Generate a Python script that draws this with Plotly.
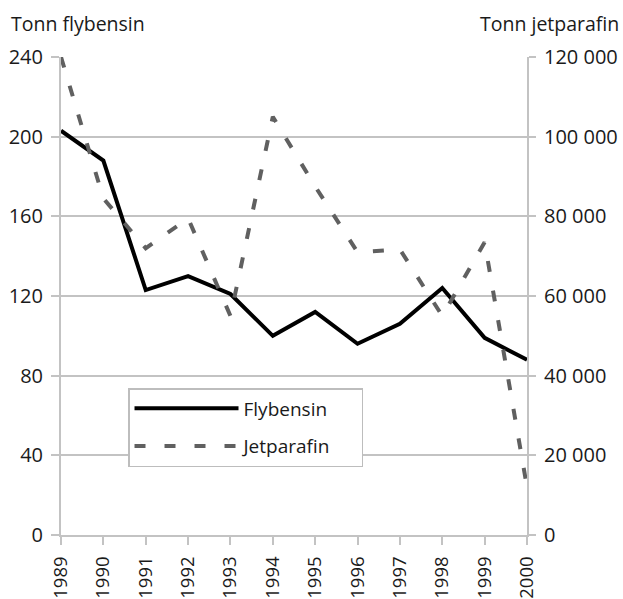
import plotly.graph_objects as go

years = [1989, 1990, 1991, 1992, 1993, 1994, 1995, 1996, 1997, 1998, 1999, 2000]
flybensin = [203, 188, 123, 130, 121, 100, 112, 96, 106, 124, 99, 88]
jetparafin = [120000, 84500, 72000, 79500, 55000, 105000, 87500, 71000, 71700, 55000, 73500, 12000]

left_ticks = [0, 40, 80, 120, 160, 200, 240]
right_ticks = [0, 20000, 40000, 60000, 80000, 100000, 120000]
right_labels = ["0", "20 000", "40 000", "60 000", "80 000", "100 000", "120 000"]

FONT = "Open Sans, Noto Sans, sans-serif"
GRID = "#c3c3c3"
TXT = "#1a1a1a"
PAD = "\u00a0" * 5  # right padding inside the legend box

fig = go.Figure()
fig.add_trace(go.Scatter(x=years, y=flybensin, name="Flybensin", mode="lines", legendgroup="a",
                         line=dict(color="#000000", width=4)))
fig.add_trace(go.Scatter(x=years, y=jetparafin, name="Jetparafin" + PAD, mode="lines", yaxis="y2",
                         legendgroup="b",
                         line=dict(color="#606060", width=4, dash="11px,19px")))

axis_common = dict(showline=True, linecolor=GRID, linewidth=2, tickcolor=GRID, tickwidth=2,
                   zeroline=False, automargin=False)

fig.update_layout(
    width=623, height=599,
    margin=dict(l=61, r=96, t=57, b=64, autoexpand=False),
    paper_bgcolor="white", plot_bgcolor="white",
    font=dict(family=FONT, size=20, color=TXT),
    showlegend=True,
    legend=dict(x=0.1438, y=0.3075, xanchor="left", yanchor="top",
                bgcolor="white", bordercolor="#bdbdbd", borderwidth=1.5,
                font=dict(size=19, family=FONT, color=TXT),
                itemwidth=104, tracegroupgap=10),
    xaxis=dict(range=[1989, 2000], tickvals=years, ticktext=[str(y) for y in years],
               tickangle=-90, showgrid=False, ticks="outside", ticklen=8,
               ticklabelstandoff=4, tickfont=dict(size=18.5, family=FONT, color=TXT),
               **axis_common),
    xaxis2=dict(range=[1989, 2000], tickvals=years, overlaying="x", anchor="y", side="bottom",
                ticks="inside", ticklen=7, tickcolor=GRID, tickwidth=2, showticklabels=False,
                showgrid=False, showline=False, zeroline=False, automargin=False),
    yaxis=dict(range=[0, 240], tickvals=left_ticks, showgrid=True, gridcolor=GRID, gridwidth=2,
               ticks="outside", ticklen=8, ticklabelstandoff=4,
               tickfont=dict(size=20, family=FONT, color=TXT), **axis_common),
    yaxis2=dict(range=[0, 120000], tickvals=right_ticks, ticktext=right_labels, overlaying="y",
                side="right", showgrid=False, ticks="outside", ticklen=7, ticklabelstandoff=4,
                tickfont=dict(size=20, family=FONT, color=TXT), **axis_common),
    annotations=[
        dict(text="Tonn flybensin", xref="paper", yref="paper", x=0, xshift=-52, y=1.0, yshift=34,
             xanchor="left", yanchor="middle", showarrow=False,
             font=dict(size=19.5, family=FONT, color=TXT)),
        dict(text="Tonn jetparafin", xref="paper", yref="paper", x=1.0, xshift=94, y=1.0, yshift=34,
             xanchor="right", yanchor="middle", showarrow=False,
             font=dict(size=19.5, family=FONT, color=TXT)),
    ],
)

fig.write_html("out.html", config={"displayModeBar": False},
               post_script="document.body.style.margin='0';")
